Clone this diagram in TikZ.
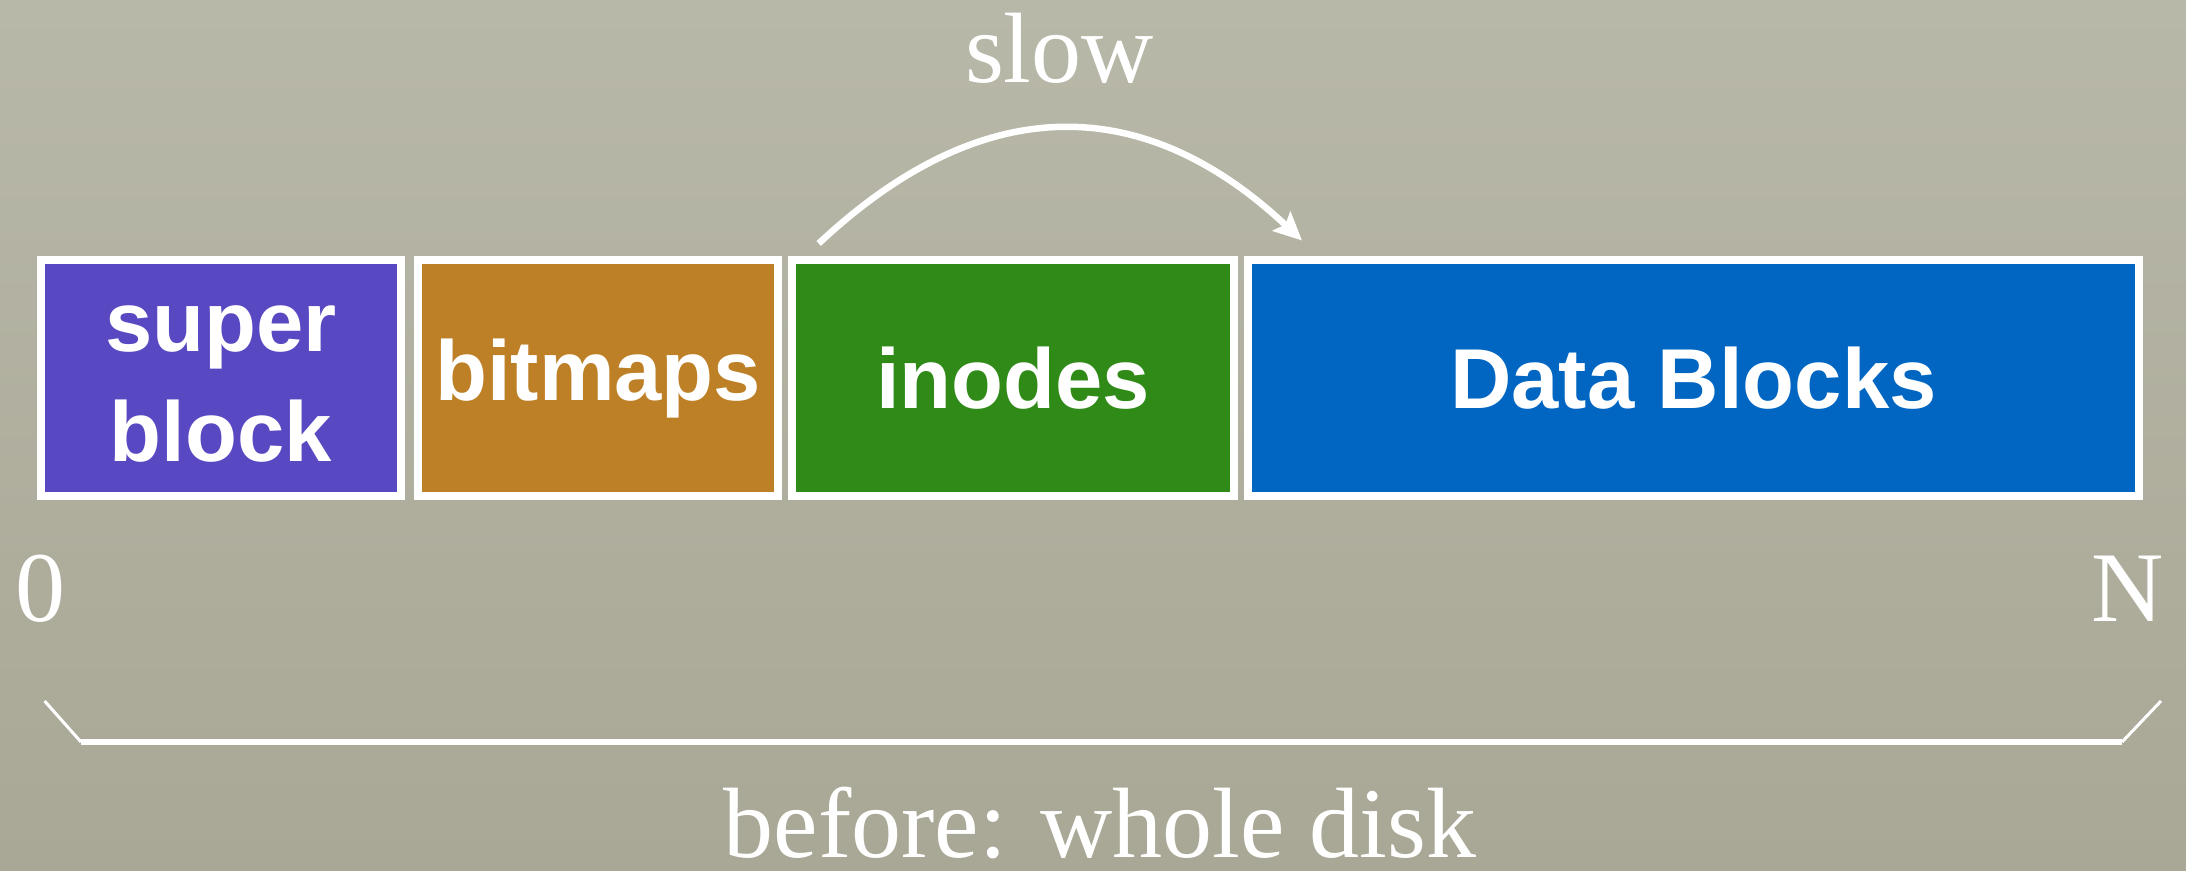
\documentclass[tikz,border=0pt]{standalone}
\usepackage{fontspec}
\setmainfont{Liberation Serif}
\setsansfont{Liberation Sans}
\usetikzlibrary{arrows.meta,calc}

\definecolor{bgtop}{RGB}{184,184,169}
\definecolor{bgbot}{RGB}{169,167,149}
\definecolor{superc}{RGB}{88,73,194}
\definecolor{bitc}{RGB}{189,128,39}
\definecolor{inodec}{RGB}{47,138,24}
\definecolor{datac}{RGB}{0,102,194}

\tikzset{
  region/.style={draw=white, line width=4pt, inner sep=0pt, outer sep=0pt,
    anchor=north west, minimum height=117.9pt, text=white, align=center,
    font=\sffamily\bfseries\fontsize{42.5}{50.5}\selectfont},
  regionlabel/.style={text=white, align=center, inner sep=0pt,
    font=\sffamily\bfseries\fontsize{42.5}{55}\selectfont},
  caption/.style={text=white, inner sep=0pt, anchor=base,
    font=\fontsize{50}{60}\selectfont},
  slowarrow/.style={draw=white, line width=3.25pt,
    -{Stealth[length=14pt,width=13pt,inset=2.5pt]}},
  tick/.style={draw=white, line width=1.5pt},
  span/.style={draw=white, line width=2.75pt}
}

\begin{document}
\begin{tikzpicture}[x=0.5pt, y=-0.5pt]
  \useasboundingbox (0,0) rectangle (2186,871);
  \shade[top color=bgtop, bottom color=bgbot] (0,0) rectangle (2186,871);

  % disk layout regions
  \node[region, fill=superc, minimum width=180.15pt] (super) at (40.7,260.5) {};
  \node[regionlabel] (superlbl) at ($(super.center)+(0,6)$) {super\\block};
  \node[region, fill=bitc, minimum width=180.15pt] (bitmaps) at (418,260.5) {bitmaps};
  \node[region, fill=inodec, minimum width=221.3pt] (inodes) at (791.7,260.5) {inodes};
  \node[region, fill=datac, minimum width=445.35pt] (data) at (1248,260.5) {Data Blocks};

  % long seek from the inode table to the data blocks
  \coordinate (seekfrom) at ($(inodes.north west)+(27,-17)$);
  \coordinate (seekto) at ($(data.north west)+(54,-20)$);
  \draw[slowarrow] (seekfrom) .. controls ($(seekfrom)+(161,-151)$) and ($(seekto)+(-161,-151)$) .. (seekto);
  \node[caption] (slow) at (1059.5,83) {slow};

  % address range
  \node[caption] (zero) at (41,621) {0};
  \node[caption] (ncount) at (2128,621) {N};

  % brace under the whole disk
  \coordinate (bl) at (44.6,701);
  \coordinate (bll) at (81,742);
  \coordinate (brr) at (2122,742);
  \coordinate (br) at (2161,701);
  \draw[tick] (bl) -- (bll);
  \draw[span] (bll) -- (brr);
  \draw[tick] (brr) -- (br);
  \node[caption] (whole) at (1100,857) {before: whole disk};
\end{tikzpicture}
\end{document}
